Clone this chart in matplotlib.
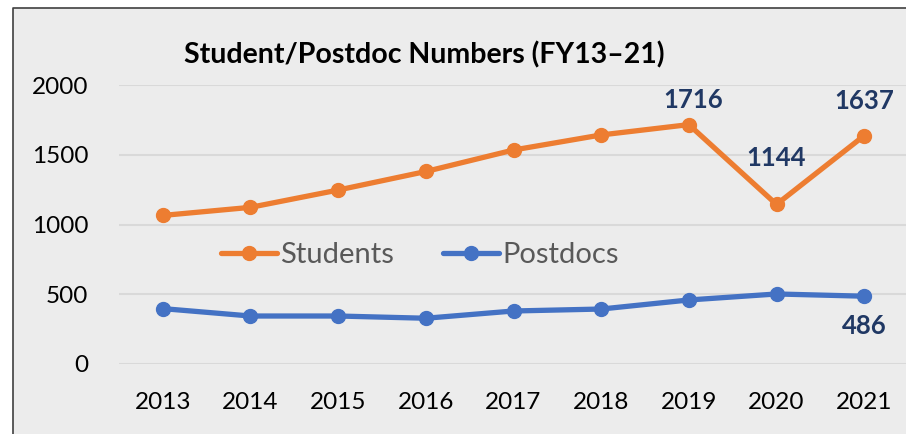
import numpy as np
import matplotlib.pyplot as plt
from matplotlib.lines import Line2D

years = ['2013', '2014', '2015', '2016', '2017', '2018', '2019', '2020', '2021']
students = [1065, 1123, 1247, 1380, 1534, 1642, 1716, 1144, 1637]
postdocs = [397, 344, 344, 328, 380, 394, 459, 502, 486]

orange = '#ED7D31'
blue = '#4472C4'
navy = '#203864'

plt.rcParams['font.family'] = ['Lato', 'DejaVu Sans']

fig = plt.figure(figsize=(9.06, 4.34), dpi=100)
fig.patch.set_facecolor('white')

# chart area box; only left and top border edges are inside the image
x0, y1 = 13 / 906, 1 - 8 / 434
bg = plt.Rectangle((x0, 0), 1 - x0, y1, transform=fig.transFigure,
                   facecolor='#ececec', edgecolor='none', zorder=-2)
fig.patches.append(bg)
fig.lines.append(Line2D([x0, x0, 1], [0, y1, y1], transform=fig.transFigure,
                        color='#404040', lw=1.2, zorder=-1))

ax = fig.add_axes([119 / 906, 1 - 364 / 434, 789 / 906, 279 / 434])
ax.set_facecolor('none')
x = np.arange(len(years))

ax.plot(x, students, color=orange, lw=3.8, marker='o', ms=10, label='Students',
        solid_capstyle='round', clip_on=False, zorder=3)
ax.plot(x, postdocs, color=blue, lw=3.8, marker='o', ms=10, label='Postdocs',
        solid_capstyle='round', clip_on=False, zorder=3)

ax.set_xlim(-0.5, 8.5)
ax.set_ylim(0, 2000)
ax.set_yticks([0, 500, 1000, 1500, 2000])
ax.set_xticks(x)
ax.set_xticklabels(years)
ax.grid(axis='y', color='#d9d9d9', lw=1.5)
ax.set_axisbelow(True)
for s in ax.spines.values():
    s.set_visible(False)
ax.tick_params(length=0, labelsize=17.5, colors='black')
ax.tick_params(axis='x', pad=20)
ax.tick_params(axis='y', pad=22)

lbl = dict(fontsize=18.5, fontweight='bold', color=navy, ha='center')
ax.annotate('1716', (6, 1716), xytext=(3, 9), textcoords='offset points', va='bottom', **lbl)
ax.annotate('1144', (7, 1144), xytext=(0, 25), textcoords='offset points', va='bottom', **lbl)
ax.annotate('1637', (8, 1637), xytext=(0, 16), textcoords='offset points', va='bottom', **lbl)
ax.annotate('486', (8, 486), xytext=(0, -13), textcoords='offset points', va='top', **lbl)

fig.text(424 / 906, 1 - 55 / 434, 'Student/Postdoc Numbers (FY13–21)', fontsize=20.5,
         fontweight='bold', ha='center', va='center')

leg = ax.legend(loc='center', bbox_to_anchor=(420 / 906, 1 - 255 / 434),
                bbox_transform=fig.transFigure, ncol=2, frameon=False, fontsize=21,
                handlelength=1.9, handletextpad=0.12, columnspacing=1.7)
for t in leg.get_texts():
    t.set_color('#595959')

fig.savefig('out.png', dpi=100)
